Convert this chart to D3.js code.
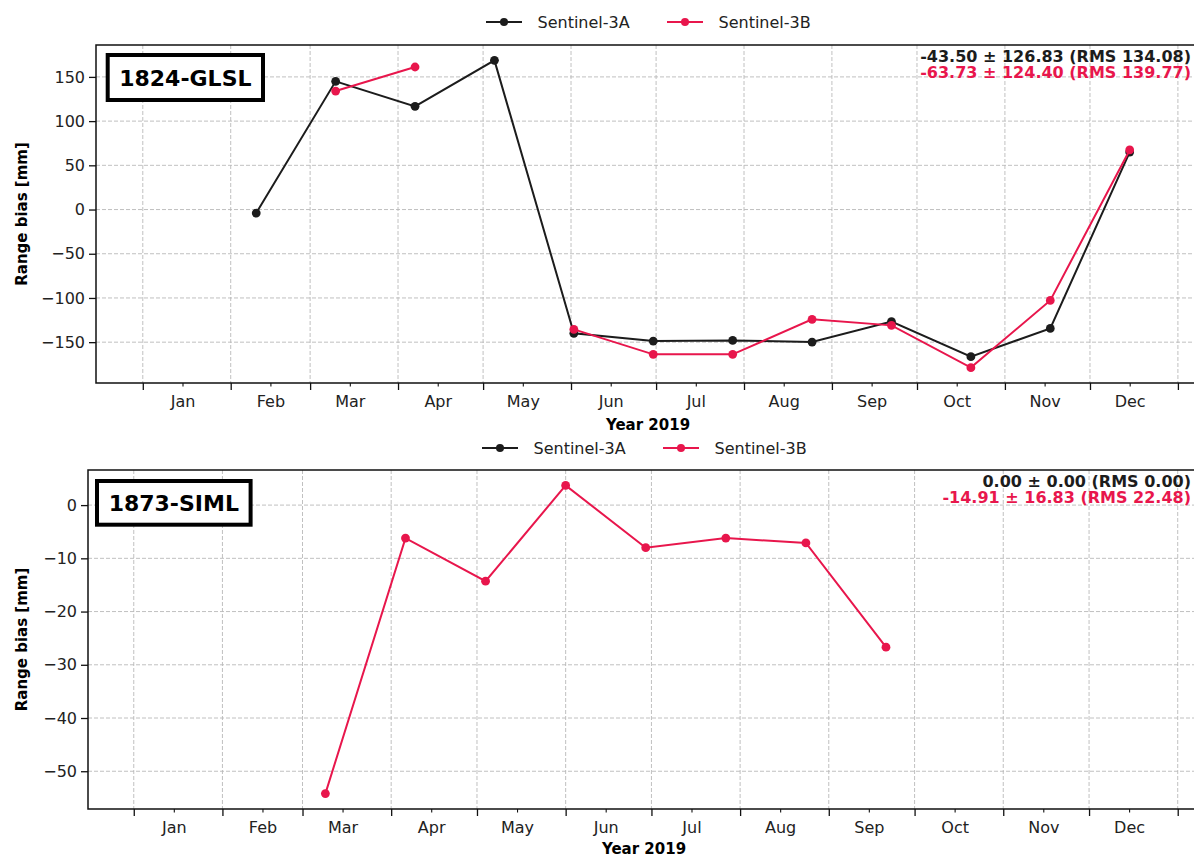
<!DOCTYPE html>
<html>
<head>
<meta charset="utf-8">
<script src="https://cdn.jsdelivr.net/npm/d3@7"></script>
<style>
  html, body { margin: 0; padding: 0; background: #fff; }
  svg { display: block; font-family: "DejaVu Sans", sans-serif; }
</style>
</head>
<body>
<svg id="chart" width="1194" height="859"></svg>
<script>
// ---------------- DATA ----------------
const seriesNames = ["Sentinel-3A", "Sentinel-3B"];
const monthLabels = ["Jan","Feb","Mar","Apr","May","Jun","Jul","Aug","Sep","Oct","Nov","Dec"];

// Panel 1: 1824-GLSL (null = no measurement, breaks the line)
const glslDatesA = ["2019-02-10","2019-03-10","2019-04-07","2019-05-05","2019-06-02","2019-06-30","2019-07-28","2019-08-25","2019-09-22","2019-10-20","2019-11-17","2019-12-15"];
const glslValuesA = [-4, 145, 116.7, 168.7, -140, -148.8, -148, -149.9, -126.8, -166.4, -134.4, 65];
const glslDatesB = ["2019-03-10","2019-04-07","2019-05-05","2019-06-02","2019-06-30","2019-07-28","2019-08-25","2019-09-22","2019-10-20","2019-11-17","2019-12-15"];
const glslValuesB = [134, 161.2, null, -135.5, -163.8, -163.8, -124.2, -131, -178.8, -102.8, 67.4];
const glslYTicks = [-150, -100, -50, 0, 50, 100, 150];
const glslStats = ["-43.50 \u00b1 126.83 (RMS 134.08)", "-63.73 \u00b1 124.40 (RMS 139.77)"];

// Panel 2: 1873-SIML
const simlDatesA = [];
const simlValuesA = [];
const simlDatesB = ["2019-03-09","2019-04-06","2019-05-04","2019-06-01","2019-06-29","2019-07-27","2019-08-24","2019-09-21"];
const simlValuesB = [-54.2, -6.2, -14.3, 3.7, -8.0, -6.2, -7.1, -26.7];
const simlYTicks = [-50, -40, -30, -20, -10, 0];
const simlStats = ["0.00 \u00b1 0.00 (RMS 0.00)", "-14.91 \u00b1 16.83 (RMS 22.48)"];

const xLabel = "Year 2019";
const yLabel = "Range bias [mm]";

// ---------------- STYLE / LAYOUT ----------------
const colors = ["#1c1c1c", "#e8164c"];
const parse = d3.timeParse("%Y-%m-%dT%H:%M");
const parseDay = d3.timeParse("%Y-%m-%d");

const panels = [
  { name: "1824-GLSL", left: 96, right: 1200, top: 45, bottom: 383,
    xStart: "2018-12-15T12:00", xEnd: "2020-01-08T19:00",
    datesA: glslDatesA, valuesA: glslValuesA, datesB: glslDatesB, valuesB: glslValuesB,
    yTicks: glslYTicks, stats: glslStats,
    legendY: 22, titleY: 430, statsY: [62, 78],
    box: { x: 107.7, y: 55, w: 155.3, h: 45 } },
  { name: "1873-SIML", left: 88, right: 1200, top: 470, bottom: 809,
    xStart: "2018-12-16T00:00", xEnd: "2020-01-08T19:00",
    datesA: simlDatesA, valuesA: simlValuesA, datesB: simlDatesB, valuesB: simlValuesB,
    yTicks: simlYTicks, stats: simlStats,
    legendY: 448, titleY: 854, statsY: [487, 503],
    box: { x: 97, y: 481, w: 153.6, h: 43.7 } }
];

const svg = d3.select("#chart");
svg.append("rect").attr("width", 1194).attr("height", 859).attr("fill", "#fff");

panels.forEach(p => {
  const g = svg.append("g");
  const x = d3.scaleTime().domain([parse(p.xStart), parse(p.xEnd)]).range([p.left, p.right]);

  const allVals = p.valuesA.concat(p.valuesB).filter(v => v !== null);
  const [mn, mx] = d3.extent(allVals);
  const pad = (mx - mn) * 0.05;
  const y = d3.scaleLinear().domain([mn - pad, mx + pad]).range([p.bottom, p.top]);

  const monthStarts = d3.timeMonth.range(new Date(2019, 0, 1), new Date(2020, 0, 2));
  const midMonths = d3.range(12).map(m => new Date(2019, m, 15));

  // grid
  const grid = g.append("g").attr("stroke", "#b9b9b9").attr("stroke-width", 0.9)
    .attr("stroke-dasharray", "4,2");
  grid.selectAll("line.v").data(monthStarts).join("line")
    .attr("x1", d => x(d)).attr("x2", d => x(d))
    .attr("y1", p.top).attr("y2", p.bottom);
  grid.selectAll("line.h").data(p.yTicks).join("line")
    .attr("x1", p.left).attr("x2", p.right)
    .attr("y1", d => y(d)).attr("y2", d => y(d));

  // x axis: major ticks (month start), minor ticks with labels (mid-month)
  const xMajor = d3.axisBottom(x).tickValues(monthStarts).tickSize(7).tickFormat("");
  const gxM = g.append("g").attr("transform", `translate(0,${p.bottom})`).call(xMajor);
  gxM.select(".domain").remove();
  gxM.selectAll("line").attr("stroke", "#111").attr("stroke-width", 1.3);

  const xMinor = d3.axisBottom(x).tickValues(midMonths).tickSize(3.5).tickPadding(9)
    .tickFormat(d => monthLabels[d.getMonth()]);
  const gxm = g.append("g").attr("transform", `translate(0,${p.bottom})`).call(xMinor);
  gxm.select(".domain").remove();
  gxm.selectAll("line").attr("stroke", "#111").attr("stroke-width", 1.1);
  gxm.selectAll("text").attr("font-size", 16).attr("fill", "#222")
    .attr("font-family", "DejaVu Sans");

  // y axis
  const yAxis = d3.axisLeft(y).tickValues(p.yTicks).tickSize(7).tickPadding(4);
  const gy = g.append("g").attr("transform", `translate(${p.left},0)`).call(yAxis);
  gy.select(".domain").remove();
  gy.selectAll("line").attr("stroke", "#111").attr("stroke-width", 1.3);
  gy.selectAll("text").attr("font-size", 16).attr("fill", "#222")
    .attr("font-family", "DejaVu Sans");

  // spines
  g.append("path")
    .attr("d", `M${p.right},${p.top}H${p.left}V${p.bottom}H${p.right}`)
    .attr("fill", "none").attr("stroke", "#111").attr("stroke-width", 1.5);

  // series
  const seriesData = [
    { dates: p.datesA, values: p.valuesA, color: colors[0] },
    { dates: p.datesB, values: p.valuesB, color: colors[1] }
  ];
  const line = d3.line().defined(d => d.value !== null)
    .x(d => x(d.date)).y(d => y(d.value));
  seriesData.forEach(s => {
    const pts = s.dates.map((d, i) => ({ date: parseDay(d), value: s.values[i] }));
    if (!pts.length) return;
    g.append("path").datum(pts).attr("d", line)
      .attr("fill", "none").attr("stroke", s.color).attr("stroke-width", 2);
    g.selectAll(null).data(pts.filter(d => d.value !== null)).join("circle")
      .attr("cx", d => x(d.date)).attr("cy", d => y(d.value))
      .attr("r", 4.4).attr("fill", s.color);
  });

  // label box
  g.append("rect").attr("x", p.box.x).attr("y", p.box.y)
    .attr("width", p.box.w).attr("height", p.box.h)
    .attr("fill", "#fff").attr("stroke", "#000").attr("stroke-width", 4);
  g.append("text").attr("x", p.box.x + p.box.w / 2).attr("y", p.box.y + p.box.h / 2 + 8)
    .attr("text-anchor", "middle").attr("font-size", 22).attr("font-weight", "bold")
    .attr("fill", "#000").text(p.name);

  // stats
  p.stats.forEach((t, i) => {
    g.append("text").attr("x", 1191).attr("y", p.statsY[i])
      .attr("text-anchor", "end").attr("font-size", 16).attr("font-weight", "bold")
      .attr("fill", colors[i]).text(t);
  });

  // legend
  const cx = (p.left + p.right) / 2;
  const legendItems = [
    { x0: cx - 162, color: colors[0], label: seriesNames[0] },
    { x0: cx + 19, color: colors[1], label: seriesNames[1] }
  ];
  legendItems.forEach(it => {
    g.append("line").attr("x1", it.x0).attr("x2", it.x0 + 36)
      .attr("y1", p.legendY).attr("y2", p.legendY)
      .attr("stroke", it.color).attr("stroke-width", 2);
    g.append("circle").attr("cx", it.x0 + 18).attr("cy", p.legendY).attr("r", 4)
      .attr("fill", it.color);
    g.append("text").attr("x", it.x0 + 51.5).attr("y", p.legendY + 6)
      .attr("font-size", 16).attr("fill", "#222").text(it.label);
  });

  // axis titles
  g.append("text").attr("x", cx).attr("y", p.titleY)
    .attr("text-anchor", "middle").attr("font-size", 15).attr("font-weight", "bold")
    .attr("fill", "#000").text(xLabel);
  g.append("text")
    .attr("transform", `translate(27,${(p.top + p.bottom) / 2}) rotate(-90)`)
    .attr("text-anchor", "middle").attr("font-size", 15).attr("font-weight", "bold")
    .attr("fill", "#000").text(yLabel);
});
</script>
</body>
</html>
